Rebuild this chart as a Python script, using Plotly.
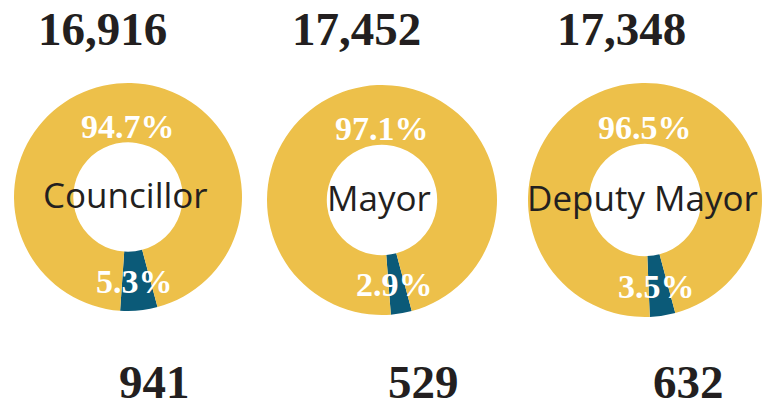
import math
import plotly.graph_objects as go

# ---- data ----
categories = ["Councillor", "Mayor", "Deputy Mayor"]
yes_counts = [16916, 17452, 17348]
no_counts = [941, 529, 632]

# ---- style / layout constants ----
W, H = 766, 407
GOLD = "#EDC04A"
TEAL = "#0B5A78"
DARK = "#231F20"
centers = [(128, 197, 114), (382, 200, 115), (645, 200, 117)]
HOLE = 0.48
ROT = 165  # start angle of first (teal) slice, clockwise from 12 o'clock
top_label_x = [102, 356, 621]
bottom_label_x = [154, 423, 688]

def px(x):
    return x / W

def py(y):
    return 1 - y / H

fig = go.Figure()
annotations = []
for i, cat in enumerate(categories):
    cx, cy, R = centers[i]
    yes, no = yes_counts[i], no_counts[i]
    total = yes + no
    fig.add_trace(go.Pie(
        values=[no, yes],
        labels=["No", "Yes"],
        marker=dict(colors=[TEAL, GOLD], line=dict(width=0)),
        hole=HOLE,
        sort=False,
        direction="clockwise",
        rotation=ROT,
        textinfo="none",
        hoverinfo="skip",
        showlegend=False,
        domain=dict(x=[px(cx - R), px(cx + R)], y=[py(cy + R), py(cy - R)]),
    ))
    no_pct = 100 * no / total
    yes_pct = 100 * yes / total
    # teal label at slice centroid
    ang = math.radians(ROT + no_pct * 3.6 / 2)
    rr = 0.745 * R
    tx, ty = cx + rr * math.sin(ang), cy - rr * math.cos(ang)
    annotations.append(dict(x=px(tx - 2), y=py(ty), xref="paper", yref="paper",
                            text=f"<b>{no_pct:.1f}%</b>", showarrow=False,
                            font=dict(family="Liberation Serif", size=34, color="white"),
                            xanchor="center", yanchor="middle"))
    # gold label at top of ring
    annotations.append(dict(x=px(cx), y=py(cy - 0.62 * R), xref="paper", yref="paper",
                            text=f"<b>{yes_pct:.1f}%</b>", showarrow=False,
                            font=dict(family="Liberation Serif", size=34, color="white"),
                            xanchor="center", yanchor="middle"))
    # center category text
    annotations.append(dict(x=px(cx - 3), y=py(cy - 3), xref="paper", yref="paper",
                            text=cat, showarrow=False,
                            font=dict(family="Open Sans", size=35, color=DARK),
                            xanchor="center", yanchor="middle"))
    # top count
    annotations.append(dict(x=px(top_label_x[i]), y=py(29), xref="paper", yref="paper",
                            text=f"<b>{yes:,}</b>", showarrow=False,
                            font=dict(family="Liberation Serif", size=47, color=DARK),
                            xanchor="center", yanchor="middle"))
    # bottom count
    annotations.append(dict(x=px(bottom_label_x[i]), y=py(382), xref="paper", yref="paper",
                            text=f"<b>{no:,}</b>", showarrow=False, height=44,
                            font=dict(family="Liberation Serif", size=47, color=DARK),
                            xanchor="center", yanchor="middle"))

fig.update_layout(
    width=W, height=H,
    margin=dict(l=0, r=0, t=0, b=0),
    paper_bgcolor="white", plot_bgcolor="white",
    annotations=annotations,
)
fig.write_html("out.html", config={"displayModeBar": False},
               post_script="document.body.style.margin='0';")
